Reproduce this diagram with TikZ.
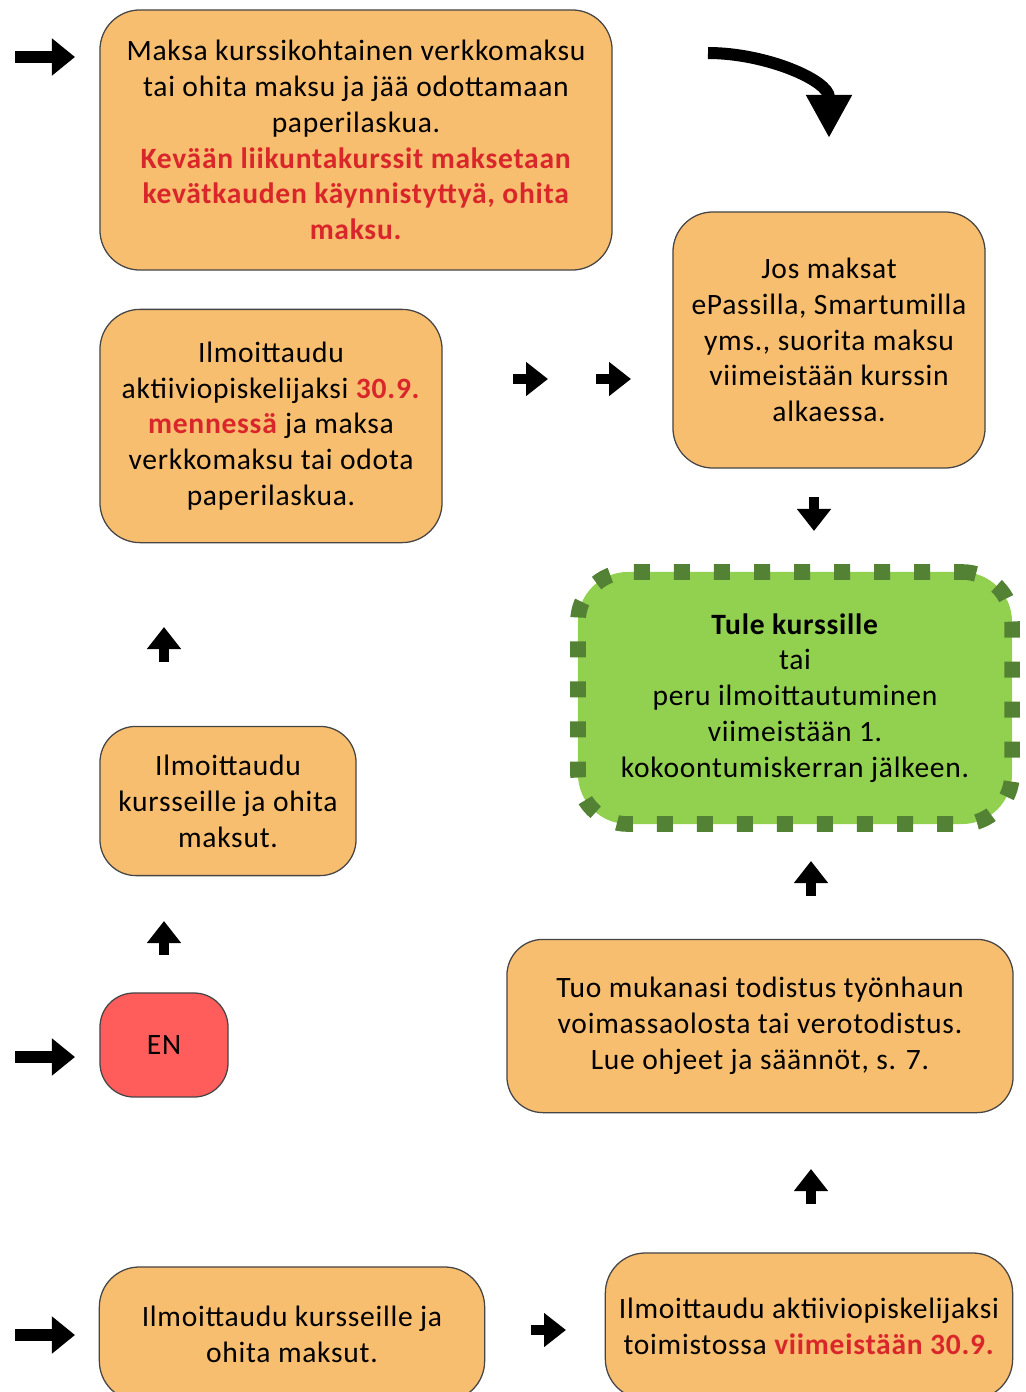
\documentclass[tikz,border=0pt]{standalone}
\usepackage{fontspec}
\setmainfont{Carlito}[LetterSpace=2.5]
\usepackage{xcolor}
\usetikzlibrary{arrows.meta,positioning}
\definecolor{boxfill}{HTML}{F8BE6F}
\definecolor{boxline}{HTML}{454545}
\definecolor{redtxt}{HTML}{D9262B}
\definecolor{enfill}{HTML}{FF5C5C}
\definecolor{greenfill}{HTML}{92D050}
\definecolor{greenline}{HTML}{548235}
\newcommand{\redb}[1]{\textcolor{redtxt}{\textbf{#1}}}

\begin{document}
\begin{tikzpicture}[x=0.025cm, y=-0.025cm,
      stepbox/.style={rectangle, rounded corners=1cm, draw=boxline, line width=0.9pt,
        fill=boxfill, align=center, inner sep=0pt,
        font=\fontsize{21}{25.5}\selectfont},
      goalbox/.style={rectangle, rounded corners=1.25cm, draw=greenline, line width=0.39cm,
        dash pattern=on 0.4cm off 0.6cm, dash phase=0.2cm, fill=greenfill, align=center, inner sep=0pt,
        font=\fontsize{21}{25.5}\selectfont},
      longarr/.style={line width=0.3cm, -{Triangle[length=0.58cm, width=0.9cm]}},
      shortarr/.style={line width=0.27cm, -{Triangle[length=0.55cm, width=0.82cm]}}]
    \useasboundingbox (0,0) rectangle (1025,1392);

    \node[stepbox, minimum width=12.8cm, minimum height=6.5cm] (maksa) at (356,140)
      {Maksa kurssikohtainen verkkomaksu\\ tai ohita maksu ja jää odottamaan\\ paperilaskua.\\
       \redb{Kevään liikuntakurssit maksetaan}\\ \redb{kevätkauden käynnistyttyä, ohita}\\ \redb{maksu.}};
    \node[stepbox, minimum width=7.8cm, minimum height=6.4cm] (jos) at (829,340)
      {Jos maksat\\ ePassilla, Smartumilla\\ yms., suorita maksu\\ viimeistään kurssin\\ alkaessa.};
    \node[stepbox, minimum width=8.55cm, minimum height=5.83cm] (aktiivi) at (271,426)
      {Ilmoittaudu\\ aktiiviopiskelijaksi \redb{30.9.}\\ \redb{mennessä} ja maksa\\ verkkomaksu tai odota\\ paperilaskua.};
    \node[goalbox, minimum width=10.85cm, minimum height=6.3cm] (tule) at (795,698)
      {\textbf{Tule kurssille}\\ tai\\ peru ilmoittautuminen\\ viimeistään 1.\\ kokoontumiskerran jälkeen.};
    \node[stepbox, rounded corners=0.9cm, minimum width=6.4cm, minimum height=3.73cm] (kurssit) at (228,801)
      {Ilmoittaudu\\ kursseille ja ohita\\ maksut.};
    \node[stepbox, rounded corners=0.85cm, fill=enfill, minimum width=3.2cm, minimum height=2.6cm] (en) at (164,1045)
      {EN};
    \node[stepbox, rounded corners=0.9cm, minimum width=12.65cm, minimum height=4.33cm] (todistus) at (760,1026)
      {Tuo mukanasi todistus työnhaun\\ voimassaolosta tai verotodistus.\\ Lue ohjeet ja säännöt, s. 7.};
    \node[stepbox, minimum width=9.63cm, minimum height=3.35cm] (ohita) at (292,1334)
      {Ilmoittaudu kursseille ja\\ ohita maksut.};
    \node[stepbox, minimum width=10.18cm, minimum height=3.65cm] (toimisto) at (809,1326)
      {Ilmoittaudu aktiiviopiskelijaksi\\ toimistossa \redb{viimeistään 30.9.}};

    \coordinate (inTopA) at (15,57);     \coordinate (inTopB) at (75,57);
    \coordinate (inEnA) at (15,1057);    \coordinate (inEnB) at (75,1057);
    \coordinate (inLowA) at (15,1335);   \coordinate (inLowB) at (75,1335);
    \coordinate (midA) at (513,379);     \coordinate (midB) at (548,379);
    \coordinate (midC) at (596,379);     \coordinate (midD) at (631,379);
    \coordinate (josA) at (814,497);     \coordinate (josB) at (814,531);
    \coordinate (upA) at (164,662);      \coordinate (upB) at (164,627);
    \coordinate (upC) at (164,955);      \coordinate (upD) at (164,921);
    \coordinate (upE) at (811,896);      \coordinate (upF) at (811,861);
    \coordinate (upG) at (811,1204);     \coordinate (upH) at (811,1169);
    \coordinate (lowA) at (531,1330);    \coordinate (lowB) at (566,1330);
    \coordinate (bendA) at (708,53);     \coordinate (bendB) at (829,138);

    \draw[longarr] (inTopA) -- (inTopB);
    \draw[longarr] (inEnA) -- (inEnB);
    \draw[longarr] (inLowA) -- (inLowB);
    \draw[shortarr] (midA) -- (midB);
    \draw[shortarr] (midC) -- (midD);
    \draw[shortarr] (josA) -- (josB);
    \draw[shortarr] (upA) -- (upB);
    \draw[shortarr] (upC) -- (upD);
    \draw[shortarr] (upE) -- (upF);
    \draw[shortarr] (upG) -- (upH);
    \draw[shortarr] (lowA) -- (lowB);
    \draw[line width=0.3cm, -{Triangle[length=1.08cm, width=1.08cm]}] (bendA) to[out=0, in=90] (bendB);
  \end{tikzpicture}
\end{document}
